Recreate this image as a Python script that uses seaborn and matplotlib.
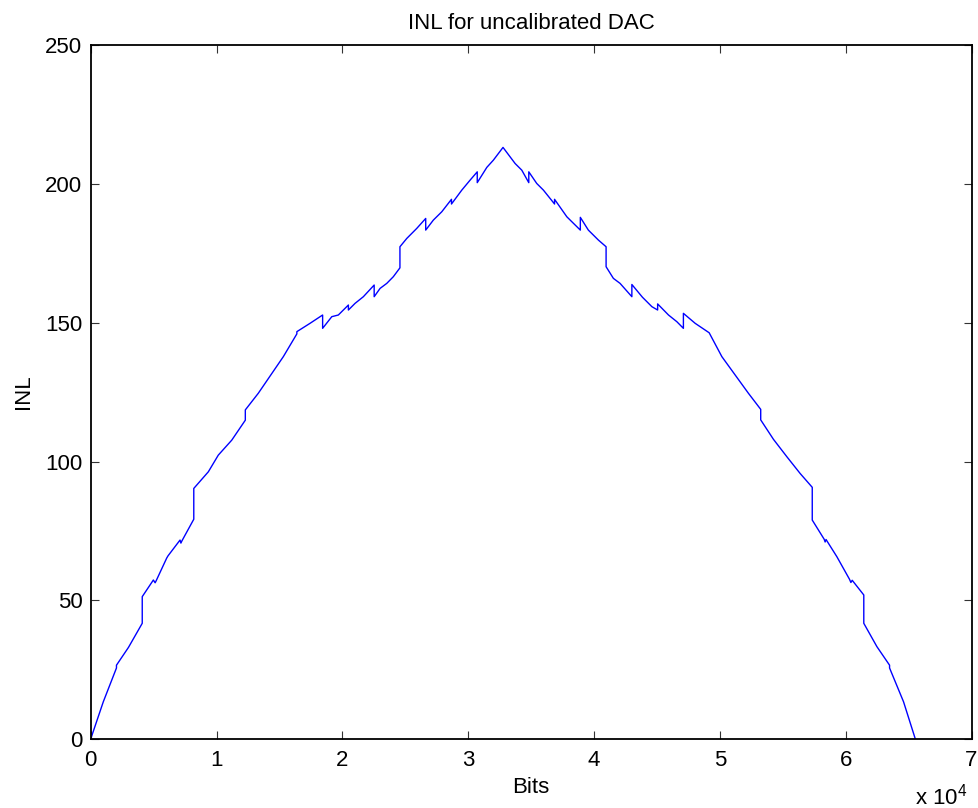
import matplotlib
matplotlib.use("Agg")
import matplotlib.pyplot as plt
import numpy as np
import pandas as pd
import seaborn as sns

# Integral nonlinearity of the uncalibrated DAC, listed at the input codes
# where the transfer curve bends or steps (first half: rising part).
code_rise = [0, 1000, 2048, 2048, 3000, 4096, 4096, 4980, 5120, 5200,
             6040, 6144, 7100, 7168, 7250, 8192, 8192, 9350, 10140, 11210,
             12288, 12288, 13320, 15310, 16384, 16384, 17430, 18432, 18432, 19160,
             19680, 20480, 20480, 21010, 21670, 22528, 22528, 23000, 23530, 24050,
             24576, 24576, 25120, 25910, 26624, 26624, 27230, 27900, 28672, 28672,
             29490, 30150, 30720, 30720, 31480, 32000, 32768]
inl_rise = [0.0, 13.4, 25.6, 26.6, 33.0, 41.7, 51.3, 57.3, 56.3, 57.0,
            65.2, 66.0, 71.7, 70.6, 71.4, 79.2, 90.3, 96.3, 102.3, 107.7,
            114.9, 118.6, 124.6, 137.8, 146.0, 146.8, 149.8, 152.8, 148.0, 152.2,
            152.8, 156.4, 154.6, 157.0, 159.4, 163.6, 159.4, 162.4, 164.2, 166.6,
            169.8, 177.4, 180.4, 184.0, 187.6, 183.4, 187.0, 190.0, 194.5, 192.8,
            197.8, 201.4, 204.4, 200.5, 206.0, 208.6, 213.2]

# Second half: falling part of the curve.
code_fall = [33730, 34260, 34816, 34816, 35450, 35980, 36864, 36864, 37840, 38912,
             38912, 39550, 40350, 40960, 40960, 41540, 42070, 43008, 43008, 43850,
             44600, 45056, 45056, 45920, 46580, 47104, 47104, 48040, 49152, 50160,
             52270, 53248, 53248, 54260, 55330, 56380, 57344, 57344, 58290, 58368,
             58440, 59300, 60300, 60416, 60520, 61440, 61440, 62480, 63488, 63488,
             64600, 65535]
inl_fall = [207.4, 205.0, 200.5, 204.4, 200.2, 197.8, 192.8, 194.5, 188.2, 183.4,
            188.0, 183.4, 179.8, 177.4, 170.2, 166.0, 164.2, 159.4, 163.8, 159.2,
            155.8, 154.6, 156.8, 152.8, 150.4, 148.0, 153.4, 149.8, 146.4, 137.8,
            124.6, 118.8, 115.0, 108.0, 101.7, 95.7, 90.7, 78.9, 72.0, 71.0,
            71.9, 65.7, 57.6, 56.4, 57.2, 51.9, 41.7, 33.3, 26.6, 25.6,
            13.4, 0.0]

x_ticks = [0, 10000, 20000, 30000, 40000, 50000, 60000, 70000]
x_tick_labels = ["0", "1", "2", "3", "4", "5", "6", "7"]
y_ticks = [0, 50, 100, 150, 200, 250]

df = pd.DataFrame({
    "code": code_rise + code_fall,
    "inl": inl_rise + inl_fall,
})

sns.set_theme(style="ticks")
plt.rcParams["font.family"] = ["Liberation Sans", "DejaVu Sans"]
plt.rcParams["mathtext.fontset"] = "custom"
plt.rcParams["mathtext.rm"] = "Liberation Sans"
plt.rcParams["mathtext.it"] = "Liberation Sans"
plt.rcParams["text.color"] = "black"
plt.rcParams["axes.labelcolor"] = "black"
plt.rcParams["xtick.labelcolor"] = "black"
plt.rcParams["ytick.labelcolor"] = "black"

W, H = 979, 808
fig = plt.figure(figsize=(W / 100, H / 100), dpi=100)
left, right, top, bottom = 90.7, 971.5, 45.3, 739.0
ax = fig.add_axes([left / W, 1 - bottom / H, (right - left) / W, (bottom - top) / H])

sns.lineplot(data=df, x="code", y="inl", estimator=None, sort=False,
             color=(0, 0, 1), linewidth=1.0, ax=ax)

ax.set_xlim(0, 70000)
ax.set_ylim(0, 250)
ax.set_xticks(x_ticks)
ax.set_xticklabels(x_tick_labels)
ax.set_yticks(y_ticks)

fs = 16
ax.tick_params(direction="in", top=True, right=True, length=6, width=0.8,
               color="#333333", labelsize=fs, labelcolor="black", pad=6)
ax.tick_params(axis="x", pad=8)
for sp in ax.spines.values():
    sp.set_visible(True)
    sp.set_linewidth(1.3)
    sp.set_color("black")

ax.set_title("INL for uncalibrated DAC", fontsize=fs, pad=12, color="black")
ax.set_xlabel("Bits", fontsize=fs, labelpad=4, color="black")
ax.set_ylabel("INL", fontsize=fs, labelpad=8, color="black")

# multiplier for the x axis
fig.text(967.5 / W, 1 - 804 / H, r"x 10$^{4}$", ha="right", va="baseline",
         fontsize=fs, color="black")

fig.savefig("out.png", dpi=100)
